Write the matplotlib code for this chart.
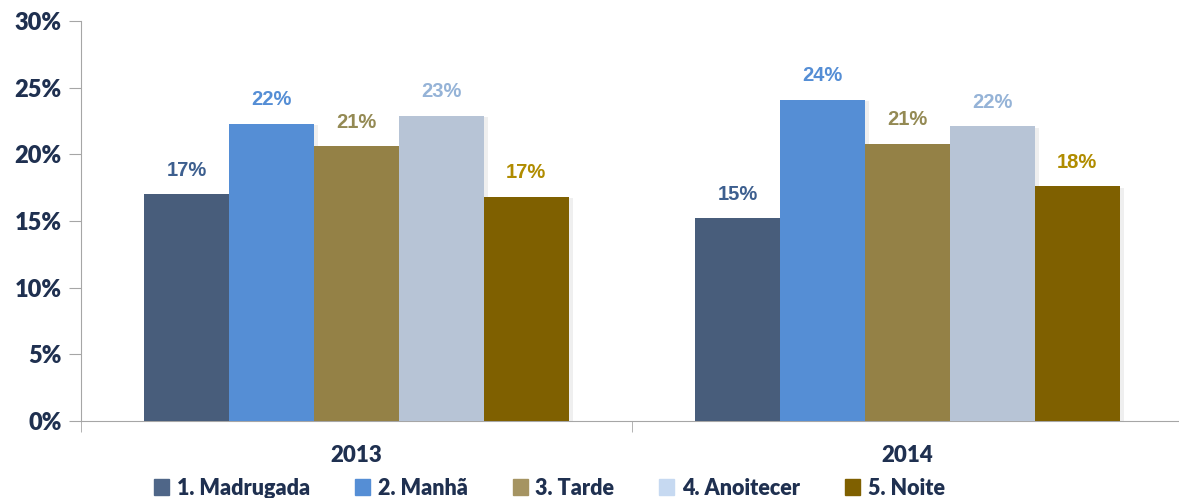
import numpy as np
import matplotlib.pyplot as plt
import matplotlib.patheffects as pe
from matplotlib.ticker import PercentFormatter

years = ["2013", "2014"]
periods = ["1. Madrugada", "2. Manhã", "3. Tarde", "4. Anoitecer", "5. Noite"]
values = {
    "1. Madrugada": [17.0, 15.2],
    "2. Manhã": [22.3, 24.1],
    "3. Tarde": [20.6, 20.8],
    "4. Anoitecer": [22.9, 22.1],
    "5. Noite": [16.8, 17.6],
}
labels = {
    "1. Madrugada": ["17%", "15%"],
    "2. Manhã": ["22%", "24%"],
    "3. Tarde": ["21%", "21%"],
    "4. Anoitecer": ["23%", "22%"],
    "5. Noite": ["17%", "18%"],
}

bar_colors = ["#485d7b", "#558ed5", "#948146", "#b7c4d6", "#7f6000"]
label_colors = ["#3d5f8f", "#558ed5", "#948a54", "#95b3d7", "#b08c00"]
legend_colors = ["#4f6688", "#558ed5", "#a59462", "#c6d9f1", "#7f6000"]
text_dark = "#1f3050"
axis_gray = "#a6a6a6"

fig = plt.figure(figsize=(11.79, 4.98), dpi=100)
ax = fig.add_axes([0.0687, 0.1546, 0.9347, 0.8032])

x = np.arange(len(years))
width = 0.154
shadow = [pe.SimplePatchShadow(offset=(3, -1), shadow_rgbFace="#999999", alpha=0.15), pe.Normal()]

for i, p in enumerate(periods):
    pos = x + (i - 2) * width
    bars = ax.bar(pos, values[p], width, color=bar_colors[i], label=p, zorder=3)
    for b in bars:
        b.set_path_effects(shadow)
    for xp, v, lab in zip(pos, values[p], labels[p]):
        ax.annotate(lab, (xp, v), xytext=(0, 17.5), textcoords="offset points",
                    ha="center", va="center", fontsize=14.5, fontweight="bold",
                    color=label_colors[i], family="Liberation Sans")

ax.set_ylim(0, 30)
ax.set_xlim(-0.5, 1.5)
ax.set_yticks(np.arange(0, 31, 5))
ax.yaxis.set_major_formatter(PercentFormatter(decimals=0))
ax.set_xticks(x)
ax.set_xticklabels(years)
ax.set_xticks([-0.5, 0.5, 1.5], minor=True)

for s in ["top", "right"]:
    ax.spines[s].set_visible(False)
ax.spines["left"].set_color(axis_gray)
ax.spines["bottom"].set_color(axis_gray)

ax.tick_params(axis="y", length=9, color=axis_gray, labelsize=17, labelcolor=text_dark, pad=5)
ax.tick_params(axis="x", which="major", length=0, labelsize=16, labelcolor=text_dark, pad=17)
ax.tick_params(axis="x", which="minor", length=8, color=axis_gray)
for t in ax.get_yticklabels() + ax.get_xticklabels():
    t.set_family("Lato")
    t.set_fontweight("heavy")

leg = fig.legend(loc="center", bbox_to_anchor=(0.466, 0.02), ncol=5, frameon=False,
                 handlelength=0.7, handleheight=0.7, handletextpad=0.35, columnspacing=2.1,
                 prop={"family": "Lato", "weight": "heavy", "size": 15.5})
for h, c in zip(leg.legend_handles, legend_colors):
    h.set_color(c)
    h.set_path_effects([])
for t in leg.get_texts():
    t.set_color(text_dark)

fig.savefig("out.png", dpi=100)
